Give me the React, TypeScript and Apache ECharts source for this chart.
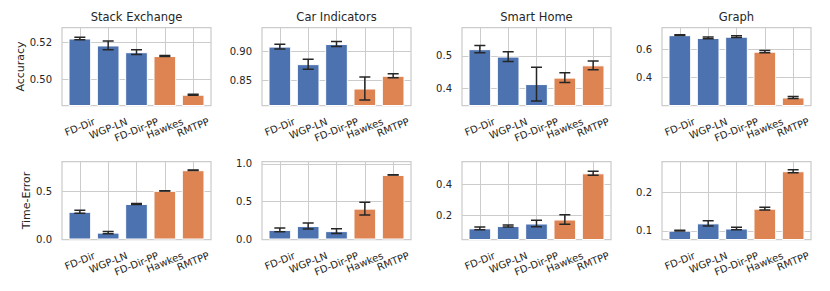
import React, { useEffect, useRef } from 'react';
import * as echarts from 'echarts';

const methods = ['FD-Dir', 'WGP-LN', 'FD-Dir-PP', 'Hawkes', 'RMTPP'];
const datasets = ['Stack Exchange', 'Car Indicators', 'Smart Home', 'Graph'];
const methodColors = ['#4C72B0', '#4C72B0', '#4C72B0', '#DD8452', '#DD8452'];
const rowNames = ['Accuracy', 'Time-Error'];

// Accuracy (top row)
const accSE = [0.5223, 0.5185, 0.5148, 0.5127, 0.4916];
const accSEErr = [0.0007, 0.0024, 0.0013, 0.0003, 0.0003];
const accCar = [0.909, 0.878, 0.9135, 0.835, 0.8575];
const accCarErr = [0.0041, 0.0088, 0.0044, 0.0203, 0.0035];
const accSH = [0.521, 0.498, 0.413, 0.433, 0.471];
const accSHErr = [0.011, 0.015, 0.052, 0.015, 0.0134];
const accGraph = [0.701, 0.681, 0.69, 0.583, 0.256];
const accGraphErr = [0.003, 0.006, 0.006, 0.008, 0.007];

// Time-Error (bottom row)
const teSE = [0.2865, 0.0712, 0.368, 0.5035, 0.717];
const teSEErr = [0.0156, 0.012, 0.005, 0.002, 0.002];
const teCar = [0.127, 0.178, 0.111, 0.409, 0.8556];
const teCarErr = [0.024, 0.04, 0.031, 0.084, 0.003];
const teSH = [0.113, 0.128, 0.1446, 0.1707, 0.4717];
const teSHErr = [0.0087, 0.0065, 0.0207, 0.0315, 0.013];
const teGraph = [0.1009, 0.12, 0.1065, 0.1583, 0.2561];
const teGraphErr = [0.001, 0.007, 0.003, 0.0035, 0.004];

const accTicks = [[0.5, 0.52], [0.85, 0.9], [0.4, 0.5], [0.4, 0.6]];
const teTicks = [[0.0, 0.5], [0.0, 0.5, 1.0], [0.2, 0.4], [0.1, 0.2]];
const accRange = [[0.4857, 0.5283], [0.805, 0.9427], [0.3467, 0.588], [0.1986, 0.7557]];
const teRange = [[0, 0.807], [0, 1.033], [0.0404, 0.5486], [0.0778, 0.2815]];
const accDecimals = [2, 2, 1, 1];
const teDecimals = [1, 1, 1, 1];

const accValues = [accSE, accCar, accSH, accGraph];
const accErrors = [accSEErr, accCarErr, accSHErr, accGraphErr];
const teValues = [teSE, teCar, teSH, teGraph];
const teErrors = [teSEErr, teCarErr, teSHErr, teGraphErr];

const FONT = '"DejaVu Sans", sans-serif';
const TEXT = '#262626';
const GRIDC = '#cccccc';
const ROT = 22;

export default function App() {
  const ref = useRef<HTMLDivElement>(null);
  useEffect(() => {
    document.body.style.margin = '0';
    if (!ref.current) return;
    const chart = echarts.init(ref.current, undefined, { renderer: 'svg' });

    const cv = document.createElement('canvas');
    const ctx = cv.getContext('2d')!;
    ctx.font = '10px "DejaVu Sans"';
    const th = (ROT * Math.PI) / 180;
    const labelWidths = methods.map((m) => ctx.measureText(m).width);

    const xMin = -0.63, xMax = 4.63;
    const gw = 149, gh = 78;
    const barW = (gw * 0.8) / (xMax - xMin);

    const grids: any[] = [];
    const xAxes: any[] = [];
    const yAxes: any[] = [];
    const series: any[] = [];
    const titles: any[] = [];

    for (let r = 0; r < 2; r++) {
      for (let c = 0; c < 4; c++) {
        const k = r * 4 + c;
        const left = 62 + 200 * c;
        const top = r === 0 ? 27.5 : 161.5;
        grids.push({
          left, top, width: gw, height: gh,
          show: true, backgroundColor: '#ffffff',
          borderColor: GRIDC, borderWidth: 1.25,
          containLabel: false, outerBoundsMode: 'none',
        });
        xAxes.push({
          type: 'value', gridIndex: k, min: xMin, max: xMax,
          axisLine: { show: false },
          axisTick: { show: false, customValues: [0, 1, 2, 3, 4] },
          splitLine: { show: true, lineStyle: { color: GRIDC, width: 1 } },
          axisLabel: { show: false, customValues: [0, 1, 2, 3, 4] },
        });
        const ticks = r === 0 ? accTicks[c] : teTicks[c];
        const rng = r === 0 ? accRange[c] : teRange[c];
        const dec = r === 0 ? accDecimals[c] : teDecimals[c];
        yAxes.push({
          type: 'value', gridIndex: k, min: rng[0], max: rng[1],
          axisLine: { show: false },
          axisTick: { show: false, customValues: ticks },
          splitLine: { show: true, lineStyle: { color: GRIDC, width: 1 } },
          axisLabel: {
            customValues: ticks, margin: 10,
            showMinLabel: true, showMaxLabel: true,
            formatter: (v: number) => v.toFixed(dec),
            fontSize: 10, fontFamily: FONT, color: TEXT,
          },
          name: c === 0 ? rowNames[r] : '',
          nameLocation: 'middle', nameRotate: 90,
          nameGap: r === 0 ? 35 : 28,
          nameTextStyle: { fontSize: 11, fontFamily: FONT, color: TEXT },
        });
        const vals = r === 0 ? accValues[c] : teValues[c];
        const errs = r === 0 ? accErrors[c] : teErrors[c];
        series.push({
          type: 'bar', xAxisIndex: k, yAxisIndex: k, barWidth: barW,
          clip: true,
          data: vals.map((v, i) => ({
            value: [i, v],
            itemStyle: { color: methodColors[i], borderColor: '#ffffff', borderWidth: 1 },
          })),
        });
        series.push({
          type: 'custom', xAxisIndex: k, yAxisIndex: k, clip: true, z: 5,
          encode: { x: 0, y: 1 },
          data: vals.map((v, i) => [i, v, errs[i]]),
          renderItem: (params: any, api: any) => {
            const x = api.value(0), v = api.value(1), e = api.value(2);
            const p1 = api.coord([x, v + e]);
            const p2 = api.coord([x, v - e]);
            const cap = 5.5;
            const st = { stroke: '#262626', lineWidth: 1.5 };
            return {
              type: 'group',
              children: [
                { type: 'line', shape: { x1: p1[0], y1: p1[1], x2: p2[0], y2: p2[1] }, style: st },
                { type: 'line', shape: { x1: p1[0] - cap, y1: p1[1], x2: p1[0] + cap, y2: p1[1] }, style: st },
                { type: 'line', shape: { x1: p2[0] - cap, y1: p2[1], x2: p2[0] + cap, y2: p2[1] }, style: st },
              ],
            };
          },
        });
        // rotated category tick labels, placed through the x scale
        series.push({
          type: 'custom', xAxisIndex: k, yAxisIndex: k, clip: false, z: 6,
          silent: true,
          encode: { x: 0, y: 1 },
          data: methods.map((m, i) => [i, rng[0]]),
          renderItem: (params: any, api: any) => {
            const idx = params.dataIndex;
            const p = api.coord([api.value(0), api.value(1)]);
            const cs = params.coordSys;
            const bottom = cs.y + cs.height;
            const w = labelWidths[idx];
            const cy = bottom + 15.5 + (w * Math.sin(th)) / 2;
            return {
              type: 'text',
              x: p[0], y: cy, rotation: th,
              style: {
                text: methods[idx], fontSize: 10, fontFamily: FONT, fill: TEXT,
                align: 'center', verticalAlign: 'middle',
              },
            };
          },
        });
        if (r === 0) {
          titles.push({
            text: datasets[c], left: left + gw / 2, top: 11, padding: 0,
            textAlign: 'center',
            textStyle: { fontSize: 11.5, fontWeight: 'normal', fontFamily: FONT, color: TEXT },
          });
        }
      }
    }

    chart.setOption({
      animation: false,
      backgroundColor: '#ffffff',
      title: titles,
      grid: grids,
      xAxis: xAxes,
      yAxis: yAxes,
      series,
    });
    return () => chart.dispose();
  }, []);
  return <div ref={ref} style={{ width: 830, height: 291 }} />;
}
